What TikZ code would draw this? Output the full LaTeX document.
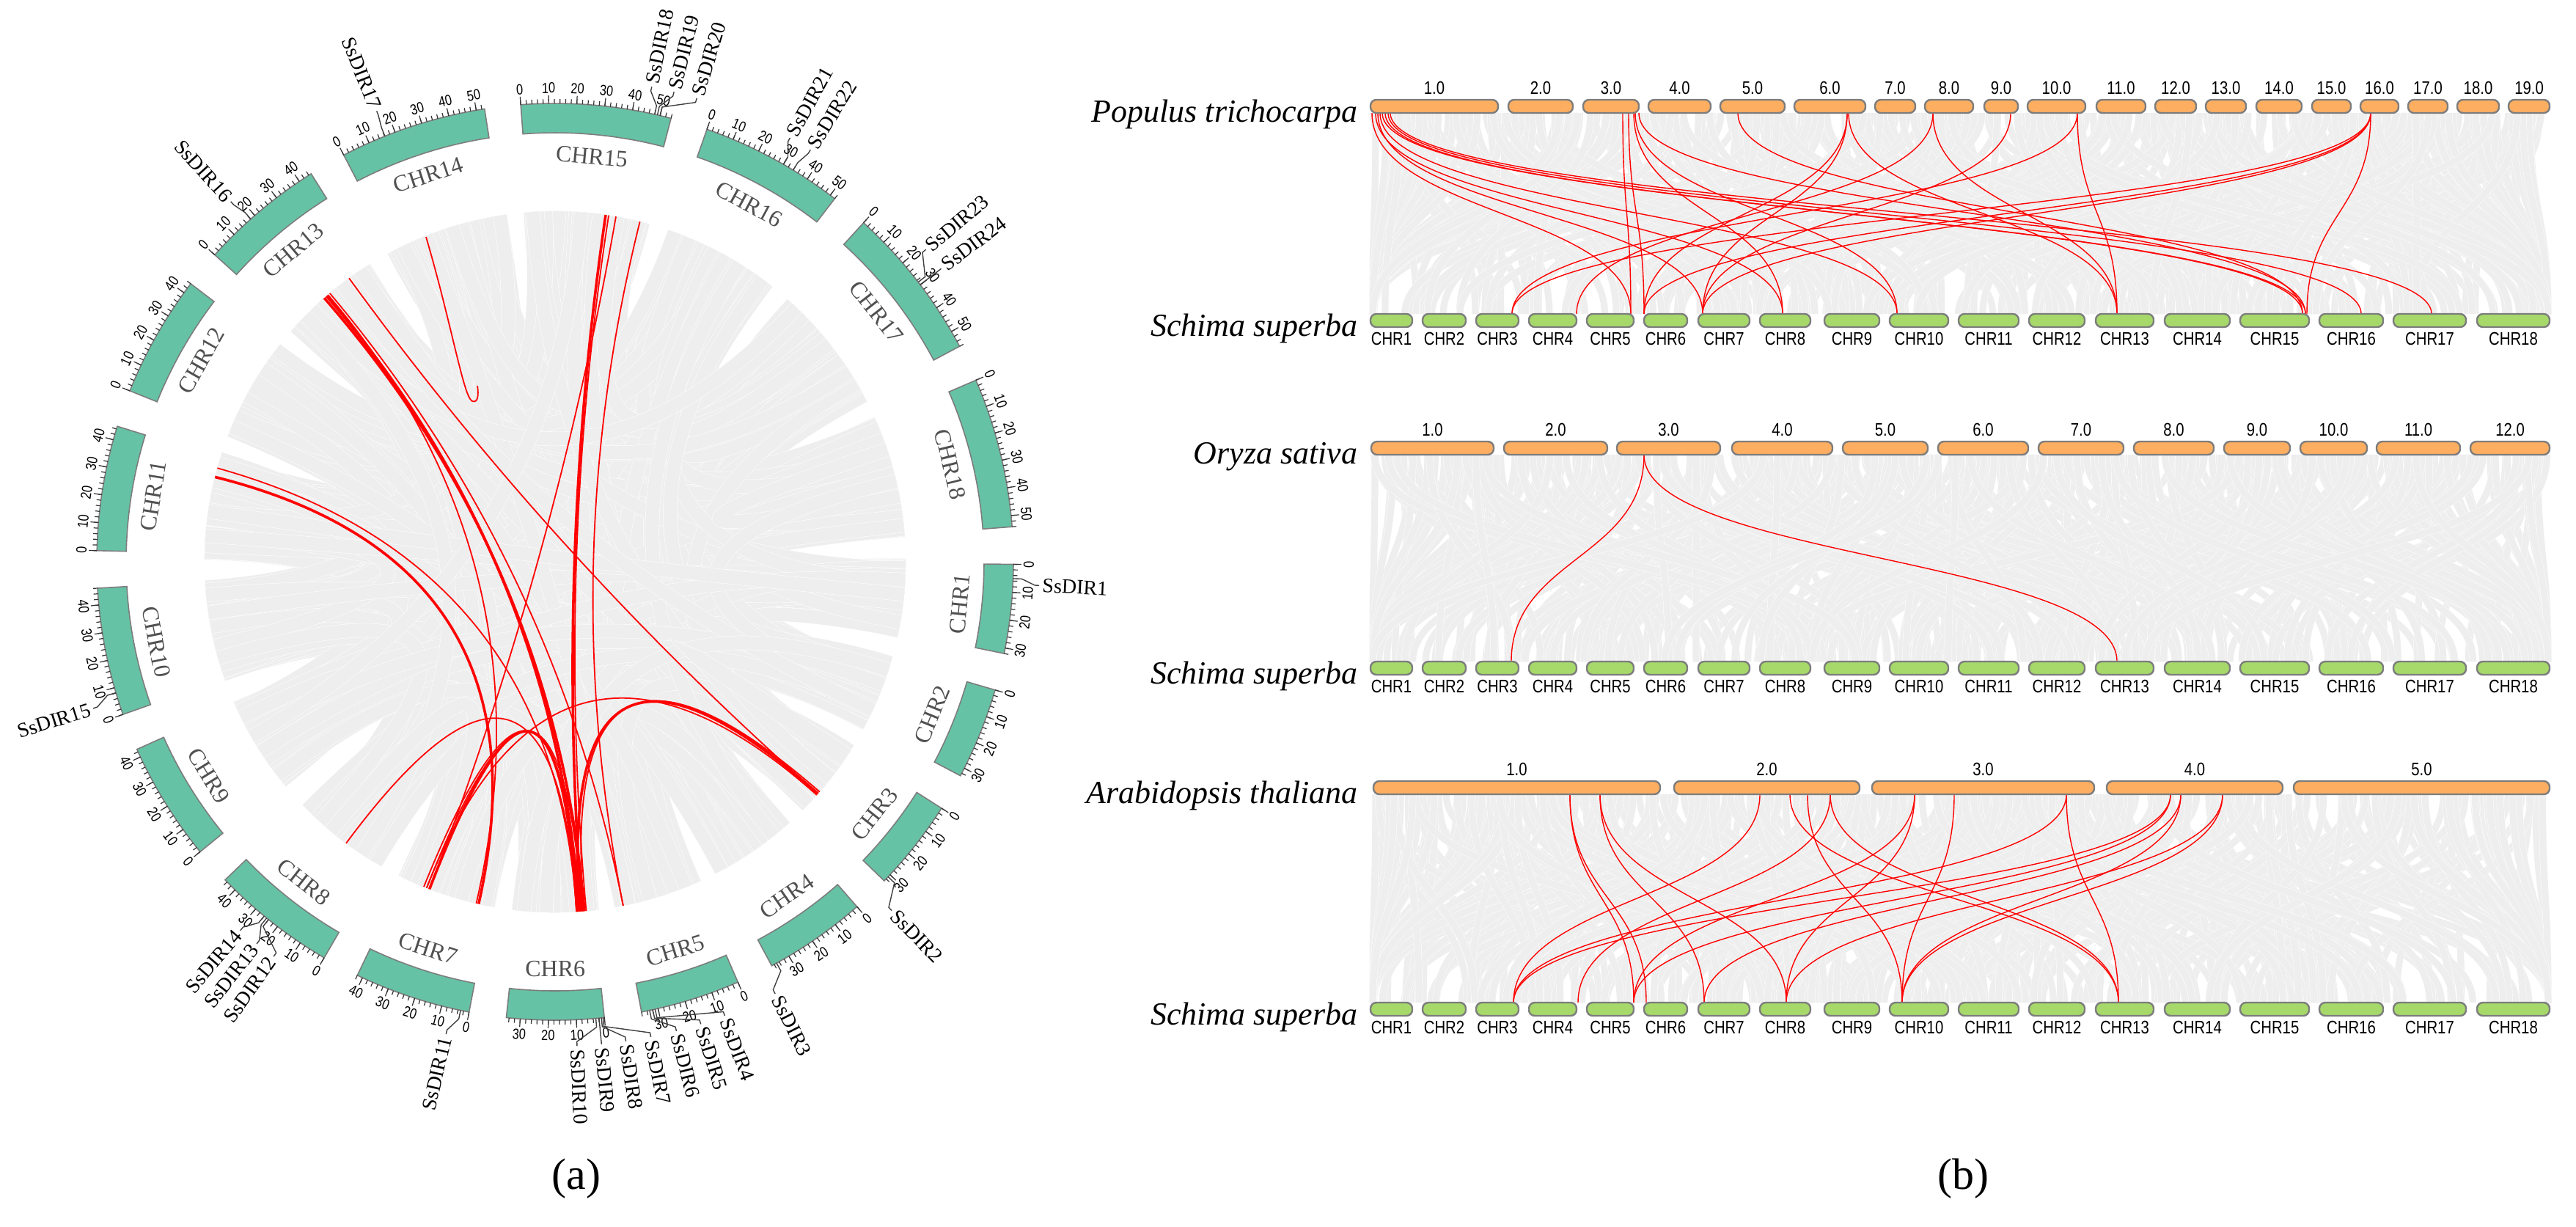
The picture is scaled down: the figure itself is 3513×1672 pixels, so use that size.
\documentclass[tikz,border=0pt]{standalone}
\usepackage{fontspec}
\setmainfont{Liberation Serif}
\setsansfont{Liberation Sans}
\newfontfamily\narrowsf{Liberation Sans}[FakeStretch=0.82]

\definecolor{chrgreen}{RGB}{102,194,165}
\definecolor{barorange}{RGB}{253,174,97}
\definecolor{bargreen}{RGB}{166,217,106}
\definecolor{barline}{RGB}{125,125,125}
\definecolor{ribgray}{RGB}{238,238,238}
\definecolor{lnkred}{RGB}{255,0,0}
\definecolor{chrtext}{RGB}{80,80,80}

\tikzset{every picture/.style={line width=0.75pt}}
\tikzset{
  chrbox/.style={draw=barline, line width=0.4pt, fill=chrgreen},
  obar/.style={draw=barline, line width=0.6pt, fill=barorange, rounded corners=2pt},
  gbar/.style={draw=barline, line width=0.6pt, fill=bargreen, rounded corners=2pt},
  grib/.style={draw=white, line width=0.12pt, double=ribgray, double distance=4.6pt},
  prib/.style={draw=white, line width=0.1pt, double=ribgray, double distance=2.3pt},
  redlnk/.style={draw=lnkred, line width=0.45pt},
  redthk/.style={draw=lnkred, line width=0.9pt},
  synred/.style={draw=lnkred, line width=0.35pt},
  tickln/.style={draw=black!80, line width=0.3pt},
  leadln/.style={draw=black!75, line width=0.35pt},
  ticklab/.style={font=\narrowsf\fontsize{5}{6}\selectfont, inner sep=0pt},
  chrlab/.style={font=\fontsize{8}{9}\selectfont, text=chrtext, inner sep=0pt},
  genelab/.style={font=\fontsize{7}{8}\selectfont, inner sep=0pt},
  spname/.style={font=\itshape\fontsize{11}{13}\selectfont, anchor=base east, inner sep=0pt},
  barlab/.style={font=\narrowsf\fontsize{6.2}{7}\selectfont, inner sep=0pt},
  caplab/.style={font=\fontsize{15}{17}\selectfont, inner sep=0pt}
}

% circos ring
\def\cx{757}
\def\cy{766}
\def\Rin{585}
\def\Rout{625}
\def\Rlnk{478}
\def\Rlab{555}
\def\Rtka{631}
\def\Rtkb{636}
\def\Rtick{646}
\def\Rlda{637}
\def\Rldb{655}
\def\Rldc{661}
\def\Rgl{664}
\def\mbDeg{0.351}
\def\cst{{-4.3,19.35,42.3,66.66,90.31,106.24,122.52,138.8,156.49,173.83,190.82,210.26,230.76,250.55,271.4,291.9,312.04,332.54}}
\def\csp{{18.95,18.25,19.66,18.95,11.23,11.58,11.58,12.99,12.64,12.29,14.74,15.8,15.09,16.15,15.8,15.44,15.8,18.6}}

% synteny rows
\def\yPa{145}
\def\yPb{437}
\def\yOa{611}
\def\yOb{911}
\def\yAa{1074}
\def\yAb{1376}
\def\spX{1853}
\def\grnbars{1869/1926/1, 1940/1999/2, 2013/2071/3, 2085/2150/4, 2164/2228/5, 2242/2301/6, 2316/2386/7, 2400/2469/8, 2488/2563/9, 2577/2657/10, 2671/2753/11, 2767/2843/12, 2858/2937/13, 2952/3041/14, 3055/3149/15, 3163/3250/16, 3264/3363/17, 3378/3477/18}

\begin{document}
\begin{tikzpicture}[x=0.25pt,y=0.25pt,yscale=-1,xscale=1]

	\fill[white] (0,0) rectangle (3513,1672);
	\useasboundingbox (0,0) rectangle (3513,1672);
	\pgfmathsetseed{11}

	%%%%%%%% (a) circos plot
	\begin{scope}[shift={(\cx,\cy)}]
	% gray ribbons
	\foreach \i in {1,...,480}{
		\pgfmathtruncatemacro\kA{random(0,17)}
		\pgfmathtruncatemacro\kB{random(0,17)}
		\pgfmathsetmacro\angA{\cst[\kA]+rnd*\csp[\kA]-90}
		\pgfmathsetmacro\angB{\cst[\kB]+rnd*\csp[\kB]-90}
		\draw[grib] (\angA:\Rlnk) .. controls (\angA:150) and (\angB:150) .. (\angB:\Rlnk);
	}
	% red links
	\foreach \p/\q/\s in {319.3/176/redthk, 318.8/175.2/redthk, 320/168.8/redlnk, 324/131.4/redlnk,
		285.5/176.5/redlnk, 284/192.6/redthk, 8.3/175.6/redthk, 8.8/174.9/redlnk, 14/168.8/redlnk,
		10/201/redlnk, 202/176/redlnk, 201.5/175.5/redlnk, 201/176.4/redthk, 216.6/176.5/redlnk,
		131.4/176/redthk, 131/175.3/redlnk, 131.7/201.5/redlnk, 319.6/193/redlnk}{
		\draw[\s] (\p-90:\Rlnk) .. controls (\p-90:160) and (\q-90:160) .. (\q-90:\Rlnk);
	}
	%Shape: hairpin link
	\draw[redlnk] (-176,-443) .. controls (-140,-320) and (-125,-225) .. (-113,-219) .. controls (-105,-216) and (-104,-228) .. (-106,-240);

	% chromosome boxes, ticks and names
	\foreach \cn/\st/\len in {15/-4.3/54, 16/19.35/52, 17/42.3/56, 18/66.66/54, 1/90.31/32, 2/106.24/33,
		3/122.52/33, 4/138.8/37, 5/156.49/36, 6/173.83/35, 7/190.82/42, 8/210.26/45, 9/230.76/43,
		10/250.55/46, 11/271.4/45, 12/291.9/44, 13/312.04/45, 14/332.54/53}{
		\pgfmathsetmacro\en{\st+\len*\mbDeg}
		\pgfmathsetmacro\md{(\st+\en)/2}
		\pgfmathsetmacro\lr{ifthenelse(\md>90 && \md<270,180-(\md),-1*(\md))}
		\draw[chrbox] (\st-90:\Rin) arc[start angle=\st-90, end angle=\en-90, radius=\Rin]
			-- (\en-90:\Rout) arc[start angle=\en-90, end angle=\st-90, radius=\Rout] -- cycle;
		\foreach \m in {0,2,...,\len}{
			\pgfmathsetmacro\ta{\st+\m*\mbDeg-90}
			\draw[tickln] (\ta:\Rout) -- (\ta:\Rtka);
		}
		\foreach \m in {0,10,...,\len}{
			\pgfmathsetmacro\ta{\st+\m*\mbDeg}
			\pgfmathsetmacro\tr{ifthenelse(\ta>90 && \ta<270,180-(\ta),-1*(\ta))}
			\draw[tickln] (\ta-90:\Rout) -- (\ta-90:\Rtkb);
			\node[ticklab, rotate=\tr] (t\cn-\m) at (\ta-90:\Rtick) {\m};
		}
		\node[chrlab, rotate=\lr] (chr\cn) at (\md-90:\Rlab) {CHR\cn};
	}

	% gene labels, right half
	\foreach \g/\l/\nm in {92.1/92.8/1, 133.4/136/2, 151.1/153/3, 167.4/159.5/4, 167.7/162.5/5, 168.1/165.5/6,
		174.0/168.6/7, 174.2/171.6/8, 174.5/174.5/9, 174.9/177.4/10, 12.55/11.5/18, 12.9/14.2/19,
		13.25/17/20, 29.9/29/21, 31.3/31.8/22, 52.4/49.9/23, 52.8/52.8/24}{
		\draw[leadln] (\g-90:\Rout) -- (\g-90:\Rlda) -- (\l-90:\Rldb) -- (\l-90:\Rldc);
		\node[genelab, anchor=west, rotate=90-\l] (g\nm) at (\l-90:\Rgl) {SsDIR\nm};
	}
	% gene labels, left half
	\foreach \g/\l/\nm in {191.9/193/11, 218.7/215.5/12, 219.0/218/13, 219.4/220.5/14, 253.4/252.4/15,
		318.4/318/16, 338.2/338.4/17}{
		\draw[leadln] (\g-90:\Rout) -- (\g-90:\Rlda) -- (\l-90:\Rldb) -- (\l-90:\Rldc);
		\node[genelab, anchor=east, rotate=270-\l] (g\nm) at (\l-90:\Rgl) {SsDIR\nm};
	}
	\end{scope}

	%%%%%%%% (b) synteny panels
	% gray collinear blocks
	\foreach \yt/\yb in {\yPa/\yPb, \yOa/\yOb, \yAa/\yAb}{
		\pgfmathsetmacro\ym{(\yt+\yb)/2}
		\foreach \i in {1,...,420}{
			\pgfmathsetmacro\xa{1872+rnd*1603}
			\pgfmathsetmacro\xb{max(1872,min(3475,\xa+(rnd-0.5)*1200))}
			\draw[prib] (\xa,\yt+9) .. controls (\xa,\ym) and (\xb,\ym) .. (\xb,\yb-9);
		}
	}

	% red DIR pairs: Populus
	\foreach \xa/\xb in {1871/2224, 1876/2431, 1882/2587, 1885/3144, 1889/3140, 1893/3220, 1896/3316, 1879/2322,
		2213/2224, 2221/2242, 2228/2431, 2230/2587, 2235/3144, 2370/3140, 2519/2242, 2519/2322, 2521/2887,
		2636/2150, 2636/2887, 2742/2322, 2833/2062, 2833/2887, 3233/2062, 3233/2242, 3233/2322, 3233/3146}{
		\draw[synred] (\xa,\yPa+9) .. controls (\xa,291) and (\xb,291) .. (\xb,\yPb-9);
	}
	% red DIR pairs: Oryza
	\foreach \xa/\xb in {2242/2061, 2242/2887}{
		\draw[synred] (\xa,\yOa+9) .. controls (\xa,761) and (\xb,761) .. (\xb,\yOb-9);
	}
	% red DIR pairs: Arabidopsis
	\foreach \xa/\xb in {2141/2228, 2141/2245, 2182/2324, 2182/2436, 2400/2064, 2441/2889, 2465/2594, 2496/2152,
		2496/2889, 2611/2228, 2611/2436, 2665/2594, 2818/2064, 2818/2889, 2960/2064, 2960/2228, 2974/2324,
		2974/2594, 3031/2436, 3031/2594}{
		\draw[synred] (\xa,\yAa+9) .. controls (\xa,1225) and (\xb,1225) .. (\xb,\yAb-9);
	}

	%Shape: chromosome bars
	\foreach \bs/\be/\bl [count=\k] in {1869/2043/1.0, 2057/2145/2.0, 2159/2235/3.0, 2248/2333/4.0, 2346/2434/5.0,
		2447/2544/6.0, 2557/2612/7.0, 2625/2691/8.0, 2706/2752/9.0, 2765/2844/10.0, 2859/2926/11.0,
		2939/2995/12.0, 3008/3063/13.0, 3077/3139/14.0, 3153/3206/15.0, 3219/3271/16.0, 3284/3338/17.0,
		3351/3408/18.0, 3421/3477/19.0}{
		\draw[obar] (\bs,\yPa-9) rectangle (\be,\yPa+9);
		\node[barlab] (pt\k) at ({(\bs+\be)/2},\yPa-25) {\bl};
	}
	\foreach \bs/\be/\bl [count=\k] in {1870/2037/1.0, 2051/2192/2.0, 2205/2346/3.0, 2362/2499/4.0, 2513/2629/5.0,
		2643/2766/6.0, 2780/2896/7.0, 2910/3019/8.0, 3033/3123/9.0, 3137/3228/10.0, 3241/3355/11.0,
		3369/3477/12.0}{
		\draw[obar] (\bs,\yOa-9) rectangle (\be,\yOa+9);
		\node[barlab] (os\k) at ({(\bs+\be)/2},\yOa-25) {\bl};
	}
	\foreach \bs/\be/\bl [count=\k] in {1873/2264/1.0, 2283/2536/2.0, 2553/2856/3.0, 2873/3113/4.0, 3128/3477/5.0}{
		\draw[obar] (\bs,\yAa-9) rectangle (\be,\yAa+9);
		\node[barlab] (at\k) at ({(\bs+\be)/2},\yAa-25) {\bl};
	}
	\foreach \yb/\rw in {\yPb/a, \yOb/b, \yAb/c}{
		\foreach \bs/\be/\bn in \grnbars{
			\draw[gbar] (\bs,\yb-9) rectangle (\be,\yb+9);
			\node[barlab] (ss\rw\bn) at ({(\bs+\be)/2},\yb+25) {CHR\bn};
		}
	}

	% Text Node
	\node[spname] (popu) at (\spX,\yPa+21) {Populus trichocarpa};
	\node[spname] (schA) at (\spX,\yPb+21) {Schima superba};
	\node[spname] (oryz) at (\spX,\yOa+21) {Oryza sativa};
	\node[spname] (schB) at (\spX,\yOb+21) {Schima superba};
	\node[spname] (arab) at (\spX,\yAa+21) {Arabidopsis thaliana};
	\node[spname] (schC) at (\spX,\yAb+21) {Schima superba};

	% Text Node
	\node[caplab] (capa) at (786,1607) {(a)};
	\node[caplab] (capb) at (2677,1607) {(b)};

\end{tikzpicture}
\end{document}
